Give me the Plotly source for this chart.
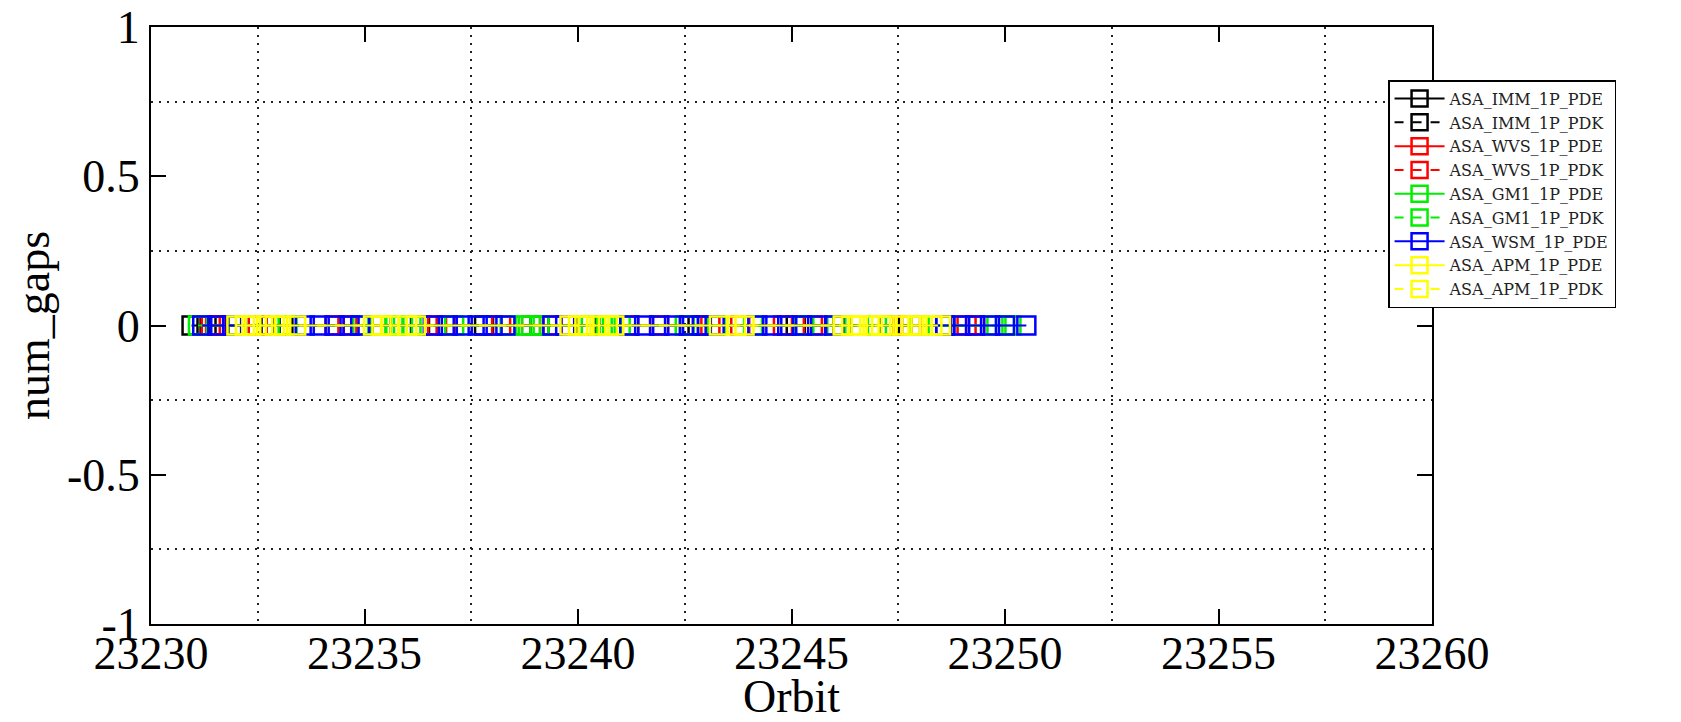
import plotly.graph_objects as go

series_names = ["ASA_IMM_1P_PDE", "ASA_IMM_1P_PDK", "ASA_WVS_1P_PDE", "ASA_WVS_1P_PDK",
                "ASA_GM1_1P_PDE", "ASA_GM1_1P_PDK", "ASA_WSM_1P_PDE", "ASA_APM_1P_PDE",
                "ASA_APM_1P_PDK"]

imm_pde_x = [23230.95, 23231.6, 23233.1, 23235.4, 23237.8, 23240.2, 23242.6, 23245.1, 23247.3]
imm_pdk_x = [23231.3, 23232.8, 23236.3, 23239.1, 23242.8, 23246.2, 23248.6]
wvs_pde_x = [23231.4, 23232.5, 23234.3, 23236.7, 23238.2, 23239.4, 23241.2, 23243.1, 23244.8,
             23246.0, 23247.6, 23249.1]
wvs_pdk_x = [23231.5, 23234.6, 23236.9, 23238.9, 23241.9, 23243.8, 23245.5, 23247.8, 23249.3]
gm1_pde_x = [23231.1, 23233.2, 23234.95, 23235.3, 23235.7, 23236.1, 23237.1, 23238.4, 23238.75,
             23239.1, 23240.3, 23240.65, 23241.0, 23243.25, 23244.1, 23246.05, 23247.0,
             23249.8, 23250.15]
gm1_pdk_x = [23232.0, 23235.9, 23238.9, 23240.8, 23242.5, 23245.3, 23248.0, 23250.0]
wsm_pde_x = [23231.2, 23231.55, 23231.9, 23233.6, 23233.95, 23234.3, 23234.65, 23234.9,
             23236.6, 23236.95, 23237.3, 23237.65, 23238.0, 23238.3, 23239.4, 23239.7,
             23241.2, 23241.55, 23241.9, 23242.25, 23242.6, 23242.9, 23243.2, 23244.2,
             23244.55, 23244.9, 23245.25, 23245.6, 23246.0, 23248.6, 23248.95, 23249.3,
             23249.65, 23250.0, 23250.5]
apm_pde_x = [23232.0, 23232.35, 23232.7, 23233.05, 23233.4, 23235.2, 23235.6, 23236.0,
             23239.8, 23240.15, 23240.5, 23240.85, 23243.3, 23243.7, 23246.2, 23246.55,
             23246.9, 23247.25, 23247.6, 23247.95, 23248.3]
apm_pdk_x = [23232.2, 23232.9, 23235.4, 23236.2, 23240.0, 23240.7, 23243.9, 23246.4, 23247.1,
             23247.8, 23248.5]

series_x = [imm_pde_x, imm_pdk_x, wvs_pde_x, wvs_pdk_x, gm1_pde_x, gm1_pdk_x, wsm_pde_x,
            apm_pde_x, apm_pdk_x]
num_gaps_value = 0

x_tick_vals = [23230, 23235, 23240, 23245, 23250, 23255, 23260]
x_tick_text = ["23230", "23235", "23240", "23245", "23250", "23255", "23260"]
y_tick_vals = [-1, -0.5, 0, 0.5, 1]
y_tick_text = ["-1", "-0.5", "0", "0.5", "1"]

colors = ["#000000", "#000000", "#ff0000", "#ff0000", "#00ee00", "#00ee00", "#0000ff",
          "#ffff00", "#ffff00"]
dashes = ["solid", "dash", "solid", "dash", "solid", "dash", "solid", "solid", "dash"]

fig = go.Figure()
for name, xs, c, d in zip(series_names, series_x, colors, dashes):
    fig.add_trace(go.Scatter(
        x=xs, y=[num_gaps_value] * len(xs), name=name, mode="lines+markers",
        line=dict(color=c, width=2, dash=d),
        marker=dict(symbol="square-open", size=18, color=c, line=dict(width=2.5, color=c)),
    ))

font_family = "Liberation Serif"
grid_dash = "2px,6px"
fig.update_layout(
    width=1673, height=714,
    paper_bgcolor="white", plot_bgcolor="white",
    margin=dict(l=143, r=249, t=19, b=98),
    font=dict(family=font_family, color="black"),
    showlegend=True,
    legend=dict(
        x=0.9657, y=0.911, xanchor="left", yanchor="top",
        bordercolor="black", borderwidth=1.5, bgcolor="white",
        font=dict(family="DejaVu Serif", size=16, color="#222"),
        itemwidth=50, tracegroupgap=0,
    ),
    xaxis=dict(
        range=[23230, 23260], tickmode="array", tickvals=x_tick_vals, ticktext=x_tick_text,
        showgrid=False, zeroline=False, automargin=False,
        showline=True, linecolor="black", linewidth=2, mirror="ticks",
        ticks="inside", ticklen=15, tickwidth=1.5, tickcolor="black",
        tickfont=dict(family=font_family, size=46), ticklabelstandoff=-12,
        ticklabeloverflow="allow",
        title=dict(text="Orbit", font=dict(family=font_family, size=46), standoff=0),
        minor=dict(tick0=23232.5, dtick=5, showgrid=True, gridcolor="#222",
                   griddash=grid_dash, gridwidth=1.5, ticks=""),
    ),
    yaxis=dict(
        range=[-1, 1], tickmode="array", tickvals=y_tick_vals, ticktext=y_tick_text,
        showgrid=False, zeroline=False, automargin=False,
        showline=True, linecolor="black", linewidth=2, mirror="ticks",
        ticks="inside", ticklen=15, tickwidth=1.5, tickcolor="black",
        tickfont=dict(family=font_family, size=46), ticklabeloverflow="allow",
        title=dict(text="num_gaps", font=dict(family=font_family, size=46), standoff=14),
        minor=dict(tick0=0.25, dtick=0.5, showgrid=True, gridcolor="#222",
                   griddash=grid_dash, gridwidth=1.5, ticks=""),
    ),
)

fig.write_html("out.html")
